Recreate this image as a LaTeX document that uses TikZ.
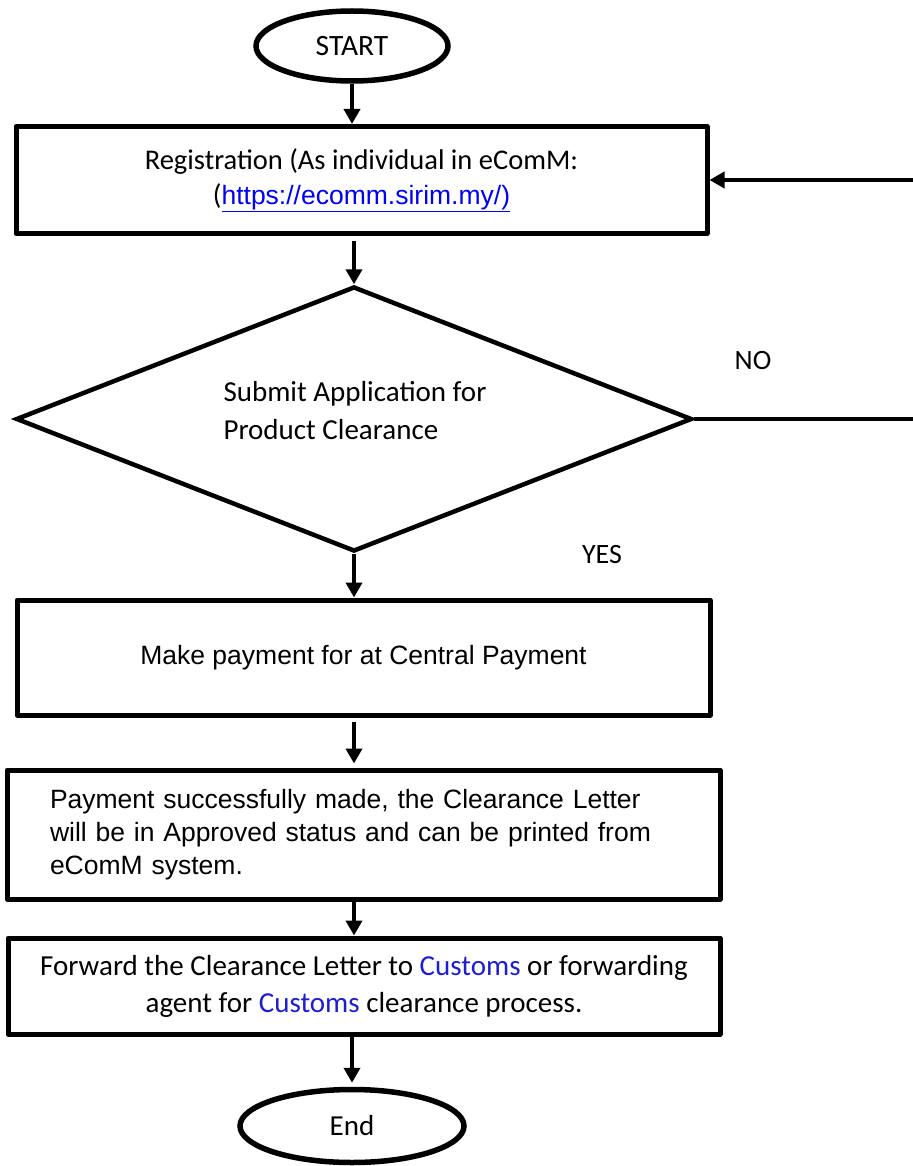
\documentclass[tikz,border=0pt]{standalone}
\usepackage{fontspec}
\setmainfont{Carlito}
\newfontfamily\arialfont{Liberation Sans}
\usetikzlibrary{positioning,shapes.geometric,arrows.meta}
\definecolor{linkblue}{RGB}{0,0,238}
\definecolor{custblue}{RGB}{30,30,205}

\begin{document}
\begin{tikzpicture}[x=1pt,y=-1pt,
  every node/.style={font=\fontsize{29}{35}\selectfont},
  term/.style={draw,ellipse,line width=5.5pt,inner sep=0pt},
  proc/.style={draw,rectangle,line width=5pt,line join=round,inner sep=0pt},
  test/.style={draw,diamond,line width=4.5pt,inner sep=0pt},
  flow/.style={-{Triangle[width=16pt,length=15pt]},line width=4pt},
  lbl/.style={inner sep=0pt,font=\fontsize{28}{30}\selectfont}]
\useasboundingbox (0,0) rectangle (912,1166);

\def\xm{352}
\def\xb{363.5}

\def\ya{46}
\def\yb{180}
\def\yc{419}
\def\yd{657.5}
\def\ye{834.5}
\def\yf{986}
\def\yg{1126}

\node[term, minimum width=192pt, minimum height=70pt, font=\fontsize{29.5}{30}\selectfont] (start) at (\xm, \ya) {START};
\node[proc, minimum width=691pt, minimum height=107pt, align=center, font=\fontsize{28.5}{35}\selectfont] (reg) at (361.5, \yb)
  {Registration (As individual in eComM:\\({\arialfont\fontsize{26.5}{35}\selectfont\color{linkblue}\underline{https://ecomm.sirim.my/)}}};
\node[test, minimum width=676pt, minimum height=265pt] (app) at (354, \yc) {};
\node[lbl, align=left, font=\fontsize{29}{38}\selectfont] (apptxt) at (355, 411)
  {Submit Application for\\Product Clearance};
\node[lbl] (no) at (753, 361) {NO};
\node[lbl] (yes) at (602, 555) {YES};
\node[proc, minimum width=693pt, minimum height=115pt, font=\arialfont\fontsize{26.5}{30}\selectfont] (pay) at (\xb, \yd)
  {Make payment for at Central Payment};
\node[proc, minimum width=713pt, minimum height=129pt, text width=627pt, align=left,
  font=\arialfont\fontsize{26.5}{33}\selectfont] (ok) at (\xb, \ye)
  {Payment successfully made, the Clearance Letter\\will be in Approved status and can be printed from\\eComM system.};
\node[proc, minimum width=712pt, minimum height=96pt, align=center, font=\fontsize{29}{37}\selectfont] (fwd) at (364, \yf)
  {Forward the Clearance Letter to \textcolor{custblue}{Customs} or forwarding\\agent for \textcolor{custblue}{Customs} clearance process.};
\node[term, minimum width=224pt, minimum height=73pt] (end) at (\xm, \yg) {End};
\coordinate (back) at (920, 300);

\draw[flow] (start.south) -- (start.south |- reg.north);
\draw[flow, shorten <=5pt] (reg.south -| app.north) -- (app.north);
\draw[flow] (app.south) -- (app.south |- pay.north);
\draw[flow, shorten <=4pt, shorten >=4pt] (pay.south -| app.south) -- (app.south |- ok.north);
\draw[flow] (ok.south -| app.south) -- (app.south |- fwd.north);
\draw[flow, shorten >=4pt] (fwd.south -| end.north) -- (end.north);
\draw[flow] (app.east) -- (app.east -| back) |- (reg.east);

\end{tikzpicture}
\end{document}
